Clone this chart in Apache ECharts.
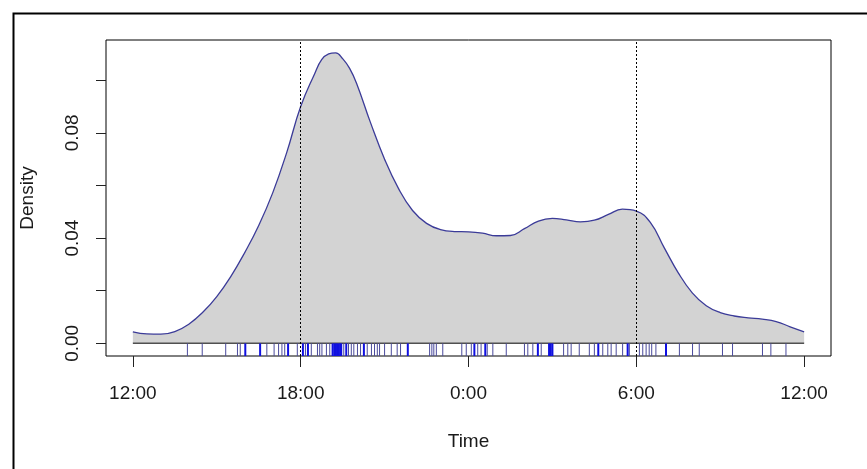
<!DOCTYPE html>
<html>
<head>
<meta charset="utf-8">
<script src="https://cdn.jsdelivr.net/npm/echarts@6/dist/echarts.min.js"></script>
<style>html,body{margin:0;padding:0;background:#fff;}#c{width:867px;height:469px;}</style>
</head>
<body>
<div id="c"></div>
<script>
// hours after 12:00 (0 = 12:00, 6 = 18:00, 12 = 0:00, 18 = 6:00, 24 = 12:00)
const hours = [0,0.5,1,1.5,2,2.5,3,3.5,4,4.5,5,5.5,6,6.5,6.75,7,7.25,7.5,7.75,8,8.5,9,9.5,10,10.5,11,11.5,12,12.5,13,13.5,14,14.5,15,15.5,16,16.5,17,17.5,18,18.5,19,19.5,20,20.5,21,21.5,22,22.5,23,23.5,24];
const density = [0.0044,0.0036,0.0035,0.0045,0.0073,0.0118,0.0178,0.0254,0.0345,0.0448,0.0572,0.0725,0.0900,0.1025,0.1078,0.1100,0.1104,0.1082,0.1045,0.0988,0.0838,0.0700,0.0588,0.0505,0.0456,0.0432,0.0425,0.0424,0.0419,0.0409,0.0410,0.0436,0.0465,0.0475,0.0469,0.0462,0.0468,0.0490,0.0510,0.0503,0.0460,0.0363,0.0268,0.0192,0.0143,0.0117,0.0104,0.0097,0.0092,0.0083,0.0063,0.0044];
// rug: observation times (hours after 12:00)
const rugTimes = [1.95,2.48,3.32,3.74,3.84,4.79,5.05,5.21,5.33,5.43,5.88,6.17,6.38,6.60,6.68,6.76,6.92,7.04,7.54,7.71,7.81,7.90,8.03,8.14,8.38,8.53,8.64,8.74,8.82,9.00,9.24,9.45,9.57,10.61,10.69,10.76,10.85,11.08,11.76,11.92,12.10,12.33,12.45,12.67,12.87,13.35,14.00,14.12,14.30,14.60,15.40,15.55,15.67,15.96,16.32,16.50,16.80,16.98,17.10,17.28,17.51,17.75,18.11,18.23,18.35,18.46,18.55,18.70,19.54,20.01,20.25,21.08,21.44,22.51,22.81,23.35];
const rugTimesDense = [4.02,4.55,5.55,6.08,6.26,7.14,7.20,7.25,7.30,7.36,7.41,7.45,7.63,8.26,9.83,12.21,12.60,14.48,14.88,14.94,15.00,16.64,17.69,19.06];
const xTicks = [0,6,12,18,24];
const xTickLabels = ['12:00','18:00','0:00','6:00','12:00'];
const yTicks = [0,0.02,0.04,0.06,0.08,0.10];
const yTickLabels = [0,0.04,0.08];
const refLines = [6,18];

const FONT = 'Liberation Sans, Arial, sans-serif';
const chart = echarts.init(document.getElementById('c'), null, {renderer:'canvas'});

function rugRender(color, width) {
  return function (params, api) {
    const p = api.coord([api.value(0), 0]);
    const cs = params.coordSys;
    return {
      type: 'line',
      shape: {x1: p[0], y1: p[1], x2: p[0], y2: cs.y + cs.height},
      style: {stroke: color, lineWidth: width}
    };
  };
}

chart.setOption({
  animation: false,
  backgroundColor: '#fff',
  graphic: [{
    type: 'rect', left: 11, top: 11, z: 100, silent: true,
    shape: {x: 0, y: 0, width: 900, height: 500},
    style: {fill: 'none', stroke: '#000', lineWidth: 2}
  }],
  grid: {left: 106, top: 40, right: 36, bottom: 113, show: true, borderColor: '#000', borderWidth: 1, backgroundColor: 'transparent'},
  xAxis: {
    type: 'value', min: -0.96, max: 24.96,
    name: 'Time', nameLocation: 'middle', nameGap: 76,
    nameTextStyle: {fontFamily: FONT, fontSize: 19, color: '#1a1a1a'},
    axisLine: {show: false, onZero: false},
    splitLine: {show: false},
    axisTick: {show: true, inside: false, length: 11, customValues: xTicks, lineStyle: {color: '#222', width: 1}},
    axisLabel: {
      customValues: xTicks, margin: 28, fontFamily: FONT, fontSize: 19, color: '#1a1a1a',
      formatter: function (v) { return xTickLabels[xTicks.indexOf(v)]; }
    }
  },
  yAxis: {
    type: 'value', min: -0.0048, max: 0.1153,
    name: 'Density', nameLocation: 'middle', nameGap: 69, nameRotate: 90,
    nameTextStyle: {fontFamily: FONT, fontSize: 19, color: '#1a1a1a'},
    axisLine: {show: false, onZero: false},
    splitLine: {show: false},
    axisTick: {show: true, inside: false, length: 10, customValues: yTicks, lineStyle: {color: '#222', width: 1}},
    axisLabel: {
      customValues: yTickLabels, rotate: 90, margin: 24, fontFamily: FONT, fontSize: 19, color: '#1a1a1a',
      formatter: function (v) { return v.toFixed(2); }
    }
  },
  series: [
    {
      type: 'line', data: hours.map((h, i) => [h, density[i]]),
      smooth: 0.45, showSymbol: false, symbol: 'none',
      lineStyle: {color: '#3b3b98', width: 1.3},
      areaStyle: {color: '#d3d3d3', opacity: 1, origin: 0},
      z: 2,
      markLine: {
        silent: true, symbol: 'none', animation: false,
        label: {show: false},
        lineStyle: {color: '#000', type: [2, 2], width: 1},
        data: refLines.map(v => ({xAxis: v}))
      }
    },
    {
      type: 'line', data: [[xTicks[0], 0], [xTicks[xTicks.length - 1], 0]],
      showSymbol: false, symbol: 'none', lineStyle: {color: '#505050', width: 1.5}, z: 3
    },
    {
      type: 'custom', data: rugTimes.map(h => [h]), renderItem: rugRender('#4a4a9c', 1), z: 4
    },
    {
      type: 'custom', data: rugTimesDense.map(h => [h]), renderItem: rugRender('#1010e0', 2), z: 5
    }
  ]
});
</script>
</body>
</html>
